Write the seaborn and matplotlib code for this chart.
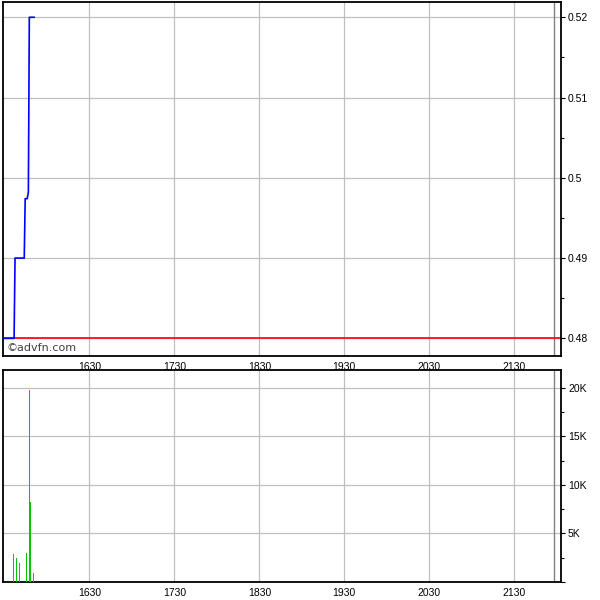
import matplotlib
matplotlib.use("Agg")
import matplotlib.pyplot as plt
import pandas as pd
import seaborn as sns
from matplotlib.ticker import MultipleLocator, FuncFormatter

# intraday price (time, price)
price_times = ["15:29:00", "15:36:50", "15:37:30", "15:44:00", "15:44:40",
               "15:46:05", "15:46:55", "15:47:35", "15:51:10"]
price_values = [0.48, 0.48, 0.49, 0.49, 0.4974, 0.4974, 0.4982, 0.52, 0.52]
prev_close = 0.48

# volume bars (time, shares)
vol_times = ["15:36:20", "15:38:25", "15:40:30", "15:45:25",
             "15:48:15", "15:47:35", "15:50:25"]
vol_values = [2870, 2460, 1980, 3000, 8250, 19800, 950]

x_ticks = ["16:30", "17:30", "18:30", "19:30", "20:30", "21:30"]
session_end = "21:58"


def to_min(s):
    parts = [float(p) for p in s.split(":")]
    while len(parts) < 3:
        parts.append(0)
    return parts[0] * 60 + parts[1] + parts[2] / 60


def hhmm(m, pos=None):
    m = int(round(m))
    return "%d%02d" % (m // 60, m % 60)


price = pd.DataFrame({"t": [to_min(s) for s in price_times], "p": price_values})
vol = pd.DataFrame({"t": [to_min(s) for s in vol_times], "v": vol_values})

sns.set_style("white")
plt.rcParams["font.family"] = ["Liberation Sans", "DejaVu Sans"]
plt.rcParams["font.size"] = 7.5

fig = plt.figure(figsize=(6, 6), dpi=100)
ax1 = fig.add_axes([0.005, 1 - 356 / 600, 0.93, 354 / 600])
ax2 = fig.add_axes([0.005, 1 - 582 / 600, 0.93, 212 / 600])

xmin, xmax = 929, 1323
grid_col = "#bcc2ba"
tick_pos = [to_min(s) for s in x_ticks]

for ax in (ax1, ax2):
    ax.set_xlim(xmin, xmax)
    ax.set_xticks(tick_pos)
    ax.xaxis.set_major_formatter(FuncFormatter(hhmm))
    ax.yaxis.tick_right()
    ax.grid(True, color=grid_col, lw=0.9)
    ax.set_axisbelow(True)
    for sp in ax.spines.values():
        sp.set_color("black")
        sp.set_linewidth(1.3)
    ax.tick_params(axis="both", which="both", direction="out", length=3,
                   width=0.8, pad=2, colors="black", labelsize=7.5)
    ax.tick_params(axis="y", which="minor", length=2)
    ax.tick_params(axis="x", length=2)
    ax.axvline(to_min(session_end), color="#808080", lw=1.0, zorder=1)

# price panel
ax1.axhline(prev_close, color="red", lw=1.2, zorder=2)
sns.lineplot(data=price, x="t", y="p", ax=ax1, color="#0000ff", lw=1.2,
             estimator=None, sort=False, zorder=3)
ax1.set_xlim(xmin, xmax)
ax1.set_ylim(0.4778, 0.5219)
ax1.yaxis.set_major_locator(MultipleLocator(0.01))
ax1.yaxis.set_minor_locator(MultipleLocator(0.005))
ax1.yaxis.set_major_formatter(FuncFormatter(lambda v, p: ("%.2f" % v).rstrip("0").rstrip(".")))
ax1.set_xlabel("")
ax1.set_ylabel("")
ax1.text(0.007, 0.024, "\u00a9advfn.com", transform=ax1.transAxes,
         fontsize=8, color="#404040", va="center", ha="left",
         family=["DejaVu Sans"])

# volume panel
ax2.bar(vol["t"], vol["v"], width=0.9, color="#00c800", linewidth=0,
        edgecolor="none", antialiased=False, zorder=3)
ax2.set_xlim(xmin, xmax)
ax2.set_ylim(0, 21850)
ax2.yaxis.set_major_locator(MultipleLocator(5000))
ax2.yaxis.set_minor_locator(MultipleLocator(2500))
ax2.yaxis.set_major_formatter(FuncFormatter(lambda v, p: "" if v == 0 else "%dK" % (v / 1000)))

fig.savefig("out.png", dpi=100)
